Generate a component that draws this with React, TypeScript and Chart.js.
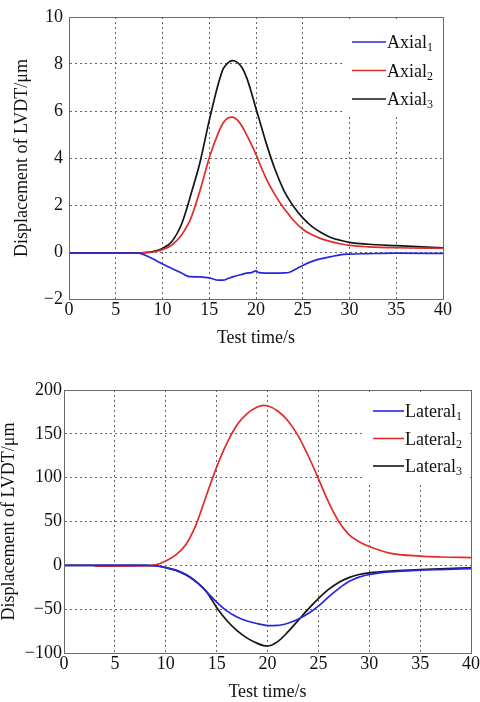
import React, { useEffect, useRef } from "react";
import { Chart, registerables } from "chart.js";

Chart.register(...registerables);

// ---------- data ----------
const timeTicks = [0, 5, 10, 15, 20, 25, 30, 35, 40];

const axialTime = [0, 5, 7.5, 8, 9, 10, 11, 12, 12.75, 13, 14, 15, 16, 16.5, 17, 17.5, 18, 18.5, 19, 19.5, 20, 20.3, 21, 22, 23, 23.5, 24, 25, 26, 27, 28, 29, 30, 32, 35, 40];
const axial1 = [-0.05, -0.05, -0.05, -0.12, -0.3, -0.51, -0.7, -0.88, -1.04, -1.05, -1.06, -1.1, -1.2, -1.2, -1.13, -1.06, -1.0, -0.95, -0.9, -0.88, -0.8, -0.88, -0.9, -0.9, -0.89, -0.87, -0.78, -0.57, -0.4, -0.28, -0.2, -0.12, -0.09, -0.07, -0.05, -0.06];
const axial2 = [-0.05, -0.05, -0.05, -0.04, 0.0, 0.1, 0.3, 0.7, 1.2, 1.4, 2.6, 4.0, 5.1, 5.5, 5.7, 5.74, 5.62, 5.35, 4.98, 4.58, 4.15, 3.85, 3.2, 2.45, 1.85, 1.6, 1.35, 0.97, 0.73, 0.56, 0.44, 0.35, 0.28, 0.22, 0.18, 0.16];
const axial3 = [-0.05, -0.05, -0.05, -0.03, 0.02, 0.15, 0.45, 1.15, 2.05, 2.4, 3.8, 5.6, 7.2, 7.8, 8.05, 8.14, 8.07, 7.85, 7.42, 6.8, 6.1, 5.7, 4.75, 3.55, 2.6, 2.25, 1.95, 1.45, 1.08, 0.82, 0.62, 0.5, 0.41, 0.33, 0.27, 0.18];
const axialLabels = ["Axial₁", "Axial₂", "Axial₃"];
const axialYTicks = [-2, 0, 2, 4, 6, 8, 10];

const lateralTime = [0, 3, 5, 8, 9, 10, 11, 12, 13, 14, 15, 16, 17, 18, 19, 19.6, 20, 21, 22, 23, 24, 25, 26, 27, 28, 29, 30, 32, 35, 37, 40];
const lateral1 = [0, 0, 0, 0, -0.5, -2.6, -5.5, -10.5, -18.5, -30, -42, -52, -59, -63.5, -66.5, -68, -68.7, -68.5, -66, -61.5, -55, -46.5, -36, -26.5, -18.5, -13.5, -10.5, -7.5, -5.5, -4.8, -3.8];
const lateral2 = [null, -0.8, -0.8, -0.5, 0.5, 5, 12, 24, 47, 80, 112, 139, 160, 173, 180.5, 182.5, 182, 176, 165, 148, 125, 99, 72, 50, 35, 27, 21.5, 14, 10.5, 9.5, 8.8];
const lateral3 = [0, 0, 0, 0, -0.5, -2.6, -5.8, -11, -19, -30, -48, -63, -74.5, -83, -89, -91.5, -92, -87, -76, -63, -50, -38, -27.5, -19.5, -14, -10.5, -8.5, -6.5, -5, -4, -2.8];
const lateralLabels = ["Lateral₁", "Lateral₂", "Lateral₃"];
const lateralYTicks = [-100, -50, 0, 50, 100, 150, 200];

const xTitle = "Test time/s";
const yTitle = "Displacement of LVDT/μm";

// ---------- styles ----------
const FONT = '"Liberation Serif", "Times New Roman", serif';
const COLORS = ["#2626e0", "#e22a2a", "#141414"];
const GRID = "#666666";
const FRAME = "#6a6a6a";
const TEXT = "#111111";

const SUBS = "₀₁₂₃₄₅₆₇₈₉";

function splitLabel(label: string) {
  let base = label;
  let sub = "";
  while (base.length && SUBS.indexOf(base[base.length - 1]) >= 0) {
    sub = String(SUBS.indexOf(base[base.length - 1])) + sub;
    base = base.slice(0, -1);
  }
  return { base, sub };
}

const frameLegend = {
  id: "frameLegend",
  beforeDatasetsDraw(chart: any, _args: any, opts: any) {
    const { ctx, chartArea } = chart;
    const ds = chart.data.datasets;
    ctx.save();
    const mainFont = `18px ${FONT}`;
    const subFont = `12px ${FONT}`;
    let maxW = 0;
    const parts = ds.map((d: any) => {
      const p = splitLabel(d.label);
      ctx.font = mainFont;
      const wb = ctx.measureText(p.base).width;
      ctx.font = subFont;
      const ws = ctx.measureText(p.sub).width;
      maxW = Math.max(maxW, wb + ws);
      return { ...p, wb };
    });
    const textLeft = chartArea.right - opts.rightPad - maxW;
    const lineEnd = textLeft - 1;
    const lineStart = lineEnd - opts.lineLen;
    const firstY = chartArea.top + opts.firstRow;
    const boxTop = chartArea.top + 2;
    const boxBottom = firstY + (ds.length - 1) * opts.rowGap + 17;
    ctx.fillStyle = "#ffffff";
    ctx.fillRect(lineStart - 9, boxTop, chartArea.right - 1 - (lineStart - 9), boxBottom - boxTop);
    parts.forEach((p: any, i: number) => {
      const y = firstY + i * opts.rowGap;
      ctx.strokeStyle = ds[i].borderColor;
      ctx.lineWidth = 1.6;
      ctx.beginPath();
      ctx.moveTo(lineStart, y);
      ctx.lineTo(lineEnd, y);
      ctx.stroke();
      ctx.fillStyle = TEXT;
      ctx.textBaseline = "alphabetic";
      ctx.textAlign = "left";
      ctx.font = mainFont;
      ctx.fillText(p.base, textLeft, y + 6);
      ctx.font = subFont;
      ctx.fillText(p.sub, textLeft + p.wb, y + 9);
    });
    ctx.restore();
  },
  afterDatasetsDraw(chart: any) {
    const { ctx, chartArea } = chart;
    ctx.save();
    ctx.strokeStyle = FRAME;
    ctx.lineWidth = 1;
    ctx.strokeRect(
      Math.round(chartArea.left) + 0.5,
      Math.round(chartArea.top) + 0.5,
      Math.round(chartArea.right - chartArea.left),
      Math.round(chartArea.bottom - chartArea.top)
    );
    ctx.restore();
  },
};

function fmt(v: number) {
  return v < 0 ? "−" + Math.abs(v) : String(v);
}

function buildConfig(p: any) {
  return {
    type: "line",
    data: {
      datasets: p.series.map((vals: (number | null)[], i: number) => ({
        label: p.labels[i],
        data: vals.map((v, j) => ({ x: p.time[j], y: v })),
        borderColor: COLORS[i],
        backgroundColor: COLORS[i],
        borderWidth: 1.7,
        pointRadius: 0,
        cubicInterpolationMode: "monotone",
        fill: false,
      })),
    },
    options: {
      responsive: false,
      animation: false,
      devicePixelRatio: 1,
      layout: { padding: p.padding },
      plugins: {
        legend: { display: false },
        tooltip: { enabled: false },
        frameLegend: p.legend,
      },
      scales: {
        x: {
          type: "linear",
          min: timeTicks[0],
          max: timeTicks[timeTicks.length - 1],
          afterBuildTicks: (s: any) => {
            s.ticks = timeTicks.map((v) => ({ value: v }));
          },
          afterFit: (s: any) => {
            s.height = p.xAxisHeight;
          },
          grid: { color: GRID, lineWidth: 1, drawTicks: false },
          border: { display: true, color: FRAME, dash: [2, 3] },
          ticks: {
            font: { family: FONT, size: 18 },
            color: TEXT,
            padding: p.xTickPad,
            maxRotation: 0,
            autoSkip: false,
          },
          title: {
            display: true,
            text: xTitle,
            color: TEXT,
            font: { family: FONT, size: 18, lineHeight: 1 },
            padding: { top: 0, bottom: p.xTitlePad },
          },
        },
        y: {
          type: "linear",
          min: p.yTicks[0],
          max: p.yTicks[p.yTicks.length - 1],
          afterBuildTicks: (s: any) => {
            s.ticks = p.yTicks.map((v: number) => ({ value: v }));
          },
          afterFit: (s: any) => {
            s.width = p.yAxisWidth;
          },
          grid: { color: GRID, lineWidth: 1, drawTicks: false },
          border: { display: true, color: FRAME, dash: [2, 3] },
          ticks: {
            font: { family: FONT, size: 18 },
            color: TEXT,
            padding: p.yTickPad,
            callback: (v: number) => fmt(v),
          },
          title: {
            display: true,
            text: yTitle,
            color: TEXT,
            font: { family: FONT, size: 18, lineHeight: 1 },
            padding: { top: p.yTitlePad, bottom: 0 },
          },
        },
      },
    },
    plugins: [frameLegend],
  };
}

function ChartBox(props: { config: any; top: number; height: number }) {
  const ref = useRef<HTMLCanvasElement | null>(null);
  useEffect(() => {
    if (!ref.current) return;
    const chart = new Chart(ref.current, props.config);
    return () => chart.destroy();
  }, []);
  return (
    <canvas
      ref={ref}
      width={480}
      height={props.height}
      style={{ position: "absolute", left: 0, top: props.top, width: 480, height: props.height }}
    />
  );
}

export default function App() {
  const topConfig = buildConfig({
    time: axialTime,
    series: [axial1, axial2, axial3],
    labels: axialLabels,
    yTicks: axialYTicks,
    padding: { left: 0, right: 37, top: 17, bottom: 0 },
    xAxisHeight: 51,
    yAxisWidth: 69,
    xTickPad: 0,
    yTickPad: 6,
    yTitlePad: 13,
    xTitlePad: 3,
    legend: { rightPad: 10, lineLen: 34, firstRow: 25, rowGap: 28.5 },
  });
  const bottomConfig = buildConfig({
    time: lateralTime,
    series: [lateral1, lateral2, lateral3],
    labels: lateralLabels,
    yTicks: lateralYTicks,
    padding: { left: 0, right: 9, top: 40, bottom: 0 },
    xAxisHeight: 49,
    yAxisWidth: 64,
    xTickPad: 0,
    yTickPad: 2,
    yTitlePad: 0,
    xTitlePad: 1,
    legend: { rightPad: 9, lineLen: 31, firstRow: 21, rowGap: 27.5 },
  });
  return (
    <div style={{ position: "absolute", left: 0, top: 0, width: 480, height: 702, background: "#fff" }}>
      <ChartBox config={topConfig} top={0} height={350} />
      <ChartBox config={bottomConfig} top={350} height={352} />
    </div>
  );
}
